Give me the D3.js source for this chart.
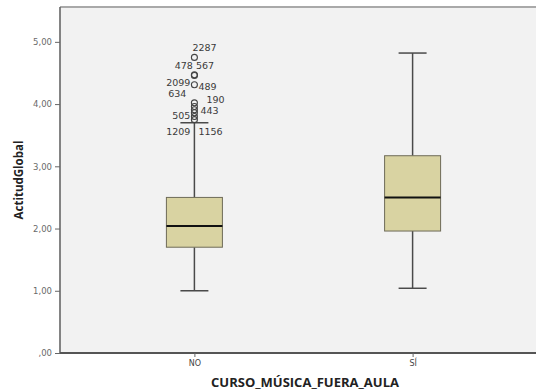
<!DOCTYPE html>
<html>
<head>
<meta charset="utf-8">
<script src="https://cdn.jsdelivr.net/npm/d3@7"></script>
<style>
  html, body { margin: 0; padding: 0; background: #fff; }
  svg { display: block; }
</style>
</head>
<body>
<svg id="chart" width="536" height="390"></svg>
<script>
// Groups on the x axis
const categories = ["NO", "SÍ"];
// Box-plot summaries per group (whisker low, Q1, median, Q3, whisker high)
const whiskerLow  = [1.00, 1.04];
const q1          = [1.70, 1.96];
const medians     = [2.04, 2.50];
const q3          = [2.50, 3.17];
const whiskerHigh = [3.70, 4.82];
// Outlying cases in the "NO" group
const outlierValues = [4.75, 4.47, 4.46, 4.31, 4.02, 3.96, 3.91, 3.86, 3.80, 3.75];
// Case numbers printed next to the outliers, with the value they sit beside
const outlierLabels = ["2287", "478 567", "2099", "489", "634", "190", "443", "505", "1209", "1156"];
const outlierLabelValues = [4.75, 4.47, 4.31, 4.31, 4.02, 4.02, 3.86, 3.80, 3.70, 3.70];
// Y axis ticks
const yTicks = [0, 1, 2, 3, 4, 5];

// Placement of each case label relative to its outlier (dx, dy in px, anchor)
const labelPlacement = [
  [-2, -9, "start"], [0, -8, "middle"], [-4, -1, "end"], [4, 3, "start"],
  [-8, -8, "end"], [12, -2, "start"], [6, -1, "start"], [-4, 0, "end"],
  [-4, 10, "end"], [4, 10, "start"]
];

const svg = d3.select("#chart");
const plotLeft = 60, plotTop = 7, plotBottom = 353, plotRight = 547;

const x = d3.scalePoint().domain(categories).range([plotLeft, plotRight]).padding(0.616);
const y = d3.scaleLinear().domain([0, 5.56]).range([plotBottom, plotTop]);

// Plot background
svg.append("rect")
  .attr("x", plotLeft).attr("y", plotTop)
  .attr("width", plotRight - plotLeft).attr("height", plotBottom - plotTop)
  .attr("fill", "#f2f2f2");

// Frame: light top edge, darker left and bottom edges
svg.append("line").attr("x1", plotLeft).attr("x2", plotRight).attr("y1", plotTop).attr("y2", plotTop)
  .attr("stroke", "#a9a9a9").attr("stroke-width", 2);

const fmt = v => v === 0 ? ",00" : d3.format(".2f")(v).replace(".", ",");

const yAxis = svg.append("g")
  .attr("transform", `translate(${plotLeft},0)`)
  .call(d3.axisLeft(y).tickValues(yTicks).tickFormat(fmt).tickSize(5).tickPadding(3));
yAxis.select(".domain").attr("stroke", "#666").attr("stroke-width", 1.6)
  .attr("d", `M0,${plotTop}V${plotBottom}`);
yAxis.selectAll(".tick line").attr("stroke", "#666");
yAxis.selectAll(".tick text")
  .attr("fill", "#6a6a6a")
  .style("font-family", "DejaVu Sans, sans-serif")
  .style("font-size", "8.5px");

const xAxis = svg.append("g")
  .attr("transform", `translate(0,${plotBottom})`)
  .call(d3.axisBottom(x).tickSize(4).tickPadding(3));
xAxis.select(".domain").attr("stroke", "#555").attr("stroke-width", 2).attr("d", `M${plotLeft},0H${plotRight}`);
xAxis.selectAll(".tick line").attr("stroke", "#666");
xAxis.selectAll(".tick text")
  .attr("fill", "#444")
  .style("font-family", "DejaVu Sans, sans-serif")
  .style("font-size", "8px");

// Axis titles
svg.append("text")
  .attr("x", 305).attr("y", 387)
  .attr("text-anchor", "middle")
  .attr("fill", "#222")
  .style("font-family", "'Open Sans', sans-serif")
  .style("font-weight", "bold")
  .style("font-size", "13px")
  .text("CURSO_MÚSICA_FUERA_AULA");

svg.append("text")
  .attr("transform", "translate(23,180) rotate(-90)")
  .attr("text-anchor", "middle")
  .attr("fill", "#222")
  .style("font-family", "'Open Sans', sans-serif")
  .style("font-weight", "bold")
  .style("font-size", "11.5px")
  .text("ActitudGlobal");

// Boxes
const boxW = 56, capW = 28;
const groups = categories.map((c, i) => ({
  c, lo: whiskerLow[i], q1: q1[i], med: medians[i], q3: q3[i], hi: whiskerHigh[i]
}));

const g = svg.append("g").selectAll("g").data(groups).join("g")
  .attr("transform", d => `translate(${x(d.c)},0)`);

g.append("line").attr("x1", 0).attr("x2", 0)
  .attr("y1", d => y(d.hi)).attr("y2", d => y(d.q3))
  .attr("stroke", "#4a4a4a").attr("stroke-width", 1.5);
g.append("line").attr("x1", 0).attr("x2", 0)
  .attr("y1", d => y(d.q1)).attr("y2", d => y(d.lo))
  .attr("stroke", "#4a4a4a").attr("stroke-width", 1.5);
g.append("line").attr("x1", -capW / 2).attr("x2", capW / 2)
  .attr("y1", d => y(d.hi)).attr("y2", d => y(d.hi))
  .attr("stroke", "#4a4a4a").attr("stroke-width", 1.5);
g.append("line").attr("x1", -capW / 2).attr("x2", capW / 2)
  .attr("y1", d => y(d.lo)).attr("y2", d => y(d.lo))
  .attr("stroke", "#4a4a4a").attr("stroke-width", 1.5);
g.append("rect")
  .attr("x", -boxW / 2).attr("width", boxW)
  .attr("y", d => y(d.q3)).attr("height", d => y(d.q1) - y(d.q3))
  .attr("fill", "#d9d3a2").attr("stroke", "#6e6b58").attr("stroke-width", 1);
g.append("line").attr("x1", -boxW / 2).attr("x2", boxW / 2)
  .attr("y1", d => y(d.med)).attr("y2", d => y(d.med))
  .attr("stroke", "#111").attr("stroke-width", 2);

// Outliers of the first group
const ox = x(categories[0]);
svg.append("g").selectAll("circle").data(outlierValues).join("circle")
  .attr("cx", ox).attr("cy", d => y(d)).attr("r", 3)
  .attr("fill", "none").attr("stroke", "#444").attr("stroke-width", 1.1);

svg.append("g").selectAll("text").data(outlierLabels).join("text")
  .attr("x", (d, i) => ox + labelPlacement[i][0])
  .attr("y", (d, i) => y(outlierLabelValues[i]) + labelPlacement[i][1])
  .attr("text-anchor", (d, i) => labelPlacement[i][2])
  .attr("dominant-baseline", "middle")
  .attr("fill", "#3a3a3a")
  .style("font-family", "DejaVu Sans, sans-serif")
  .style("font-size", "9.5px")
  .text(d => d);
</script>
</body>
</html>
